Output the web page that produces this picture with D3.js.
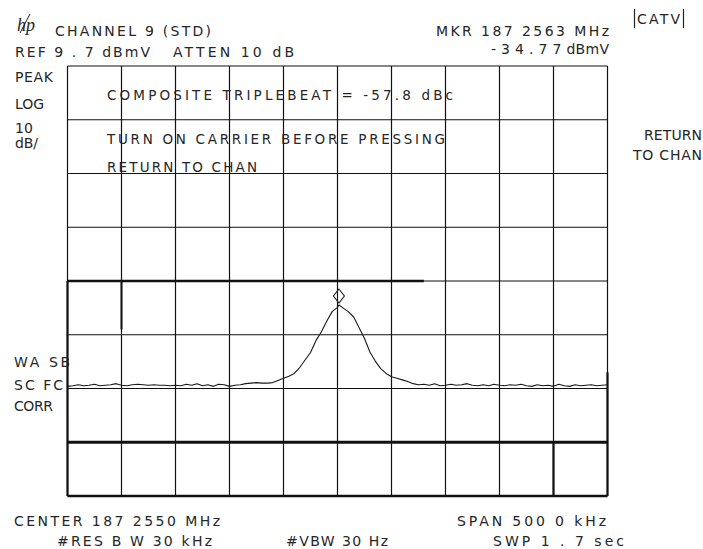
<!DOCTYPE html>
<html>
<head>
<meta charset="utf-8">
<script src="https://cdn.jsdelivr.net/npm/d3@7/dist/d3.min.js"></script>
<style>
  html, body { margin: 0; padding: 0; background: #fff; }
  svg { display: block; }
  text { font-family: "DejaVu Sans", sans-serif; fill: #262626; }
</style>
</head>
<body>
<svg id="chart" width="703" height="549"></svg>
<script>
// Sweep: frequency offset from centre (kHz) and measured level (dBmV)
const freqOffsetKHz = [
  -250, -245, -240, -235, -230, -225, -220, -215, -210, -205,
  -200, -195, -190, -185, -180, -175, -170, -165, -160, -155,
  -150, -145, -140, -135, -130, -125, -120, -115, -110, -105,
  -100, -95, -90, -85, -80, -75, -70, -65, -60, -55,
  -50, -45, -40, -35, -30, -25, -20, -15, -10, -5,
  0, 1.3, 5, 10, 15, 20, 25, 30, 35, 40,
  45, 50, 55, 60, 65, 70, 75, 80, 85, 90,
  95, 100, 105, 110, 115, 120, 125, 130, 135, 140,
  145, 150, 155, 160, 165, 170, 175, 180, 185, 190,
  195, 200, 205, 210, 215, 220, 225, 230, 235, 240,
  245, 250
];
const levelDBmV = [
  -49.9, -49.8, -49.6, -49.8, -49.7, -49.5, -49.8, -49.7, -49.6, -49.4,
  -49.7, -49.8, -49.6, -49.5, -49.6, -49.7, -49.6, -49.7, -49.7, -49.8,
  -49.7, -49.8, -49.5, -49.7, -49.4, -49.8, -49.6, -49.9, -49.5, -49.6,
  -49.9, -49.7, -49.6, -49.4, -49.3, -49.2, -49.3, -49.3, -49.2, -48.8,
  -48.4, -48.0, -47.5, -46.4, -45.0, -43.6, -41.4, -39.8, -37.8, -36.0,
  -35.2, -34.77, -35.3, -36.0, -37.0, -39.0, -41.0, -43.5, -45.2, -46.6,
  -47.5, -48.1, -48.4, -48.7, -49.0, -49.4, -49.6, -49.5, -49.7, -49.4,
  -49.8, -49.7, -49.5, -49.7, -49.6, -49.4, -49.7, -49.8, -49.6, -49.8,
  -49.5, -49.7, -49.8, -49.6, -49.7, -49.5, -49.8, -49.9, -49.6, -49.8,
  -49.7, -49.9, -49.5, -49.8, -49.9, -49.6, -49.8, -49.7, -49.6, -49.8,
  -49.7, -49.6
];

// Marker readout
const markerKHz = 1.3;
const markerDBmV = -34.77;

// Display settings: reference level, log scale, span
const refLevel = 9.7;
const dbPerDiv = 10;
const vDivs = 8;
const span = 500;
const hDivs = 10;

const freqTicks = d3.range(hDivs + 1).map(i => -span / 2 + i * span / hDivs);
const levelTicks = d3.range(vDivs + 1).map(i => refLevel - i * dbPerDiv);

// Annotation strings
const headerLabels = ["CHANNEL 9 (STD)", "REF 9 . 7 dBmV", "ATTEN 10 dB",
                      "MKR 187 2563 MHz", "- 3 4 . 7 7 dBmV"];
const sideLabels = ["PEAK", "LOG", "10", "dB/", "WA SB", "SC FC", "CORR"];
const softKeys = ["CATV", "RETURN", "TO CHAN"];
const messages = ["COMPOSITE TRIPLEBEAT = -57.8 dBc",
                  "TURN ON CARRIER BEFORE PRESSING", "RETURN TO CHAN"];
const footerLabels = ["CENTER 187 2550 MHz", "SPAN 500 0 kHz",
                      "#RES B W 30 kHz", "#VBW 30 Hz", "SWP 1 . 7  sec"];

const svg = d3.select("#chart");
const plot = { left: 67.5, right: 607.5, top: 66, bottom: 496 };

const x = d3.scaleLinear().domain([-span / 2, span / 2]).range([plot.left, plot.right]);
const y = d3.scaleLinear().domain([refLevel, refLevel - vDivs * dbPerDiv]).range([plot.top, plot.bottom]);

// Graticule
const grid = svg.append("g").attr("stroke", "#111").attr("fill", "none");
grid.selectAll("line.v").data(freqTicks).join("line")
  .attr("class", "v")
  .attr("x1", d => x(d)).attr("x2", d => x(d))
  .attr("y1", plot.top).attr("y2", plot.bottom)
  .attr("stroke-width", 1.2);
grid.selectAll("line.h").data(levelTicks).join("line")
  .attr("class", "h")
  .attr("x1", plot.left).attr("x2", plot.right)
  .attr("y1", d => y(d)).attr("y2", d => y(d))
  .attr("stroke-width", 1.2);

// Heavier plotter strokes
const heavy = [
  { x1: x(-250), x2: x(80), y1: y(refLevel - 40), y2: y(refLevel - 40), w: 2.6 },
  { x1: x(-250), x2: x(250), y1: y(refLevel - 70), y2: y(refLevel - 70), w: 2.8 },
  { x1: x(-250), x2: x(250), y1: y(refLevel - 80), y2: y(refLevel - 80), w: 2.4 },
  { x1: x(-250), x2: x(-250), y1: y(refLevel - 40), y2: y(refLevel - 80), w: 2.2 },
  { x1: x(-200), x2: x(-200), y1: y(refLevel - 40), y2: y(refLevel - 49), w: 2.0 },
  { x1: x(200), x2: x(200), y1: y(refLevel - 70), y2: y(refLevel - 80), w: 2.2 },
  { x1: x(250), x2: x(250), y1: y(refLevel - 57), y2: y(refLevel - 80), w: 2.2 }
];
grid.selectAll("line.heavy").data(heavy).join("line")
  .attr("class", "heavy")
  .attr("x1", d => d.x1).attr("x2", d => d.x2)
  .attr("y1", d => d.y1).attr("y2", d => d.y2)
  .attr("stroke-width", d => d.w);

// Trace
const trace = freqOffsetKHz.map((f, i) => [f, levelDBmV[i]]);
svg.append("path")
  .datum(trace)
  .attr("fill", "none")
  .attr("stroke", "#1a1a1a")
  .attr("stroke-width", 1.1)
  .attr("stroke-linejoin", "round")
  .attr("d", d3.line().x(d => x(d[0])).y(d => y(d[1])));

// Marker diamond sitting on the peak
const mx = x(markerKHz), my = y(markerDBmV) - 2;
svg.append("path")
  .attr("fill", "none").attr("stroke", "#1a1a1a").attr("stroke-width", 1.1)
  .attr("d", `M${mx},${my} L${mx - 5.5},${my - 7} L${mx},${my - 14} L${mx + 5.5},${my - 7} Z`);

// Text helper: fit a string to a measured width
function label(str, x0, yb, w, opts = {}) {
  const t = svg.append("text")
    .attr("x", x0).attr("y", yb)
    .attr("font-size", opts.size || 14)
    .attr("text-anchor", opts.anchor || "start")
    .attr("textLength", w)
    .attr("lengthAdjust", "spacing")
    .text(str);
  if (opts.family) t.style("font-family", opts.family);
  return t;
}

// hp logo
svg.append("text").attr("x", 17).attr("y", 31)
  .attr("font-size", 18).attr("font-style", "italic")
  .style("font-family", "'Liberation Serif', serif").attr("fill", "#222")
  .text("hp");
svg.append("line").attr("x1", 20).attr("y1", 33).attr("x2", 30).attr("y2", 14)
  .attr("stroke", "#222").attr("stroke-width", 1);

label(headerLabels[0], 55, 36, 156);
label(headerLabels[1], 15, 57, 135);
label(headerLabels[2], 173, 57, 121);
label(headerLabels[3], 436, 36, 173);
label(headerLabels[4], 491, 54, 118);

label(sideLabels[0], 15, 82, 38);
label(sideLabels[1], 15, 109, 29);
label(sideLabels[2], 15, 133, 18);
label(sideLabels[3], 15, 148, 23);
label(sideLabels[4], 14, 367, 56);
label(sideLabels[5], 14, 390, 49);
label(sideLabels[6], 14, 411, 39);

// Soft keys
label(softKeys[0], 637, 24, 43);
svg.append("g").attr("stroke", "#222").attr("stroke-width", 1.2)
  .selectAll("line").data([634.5, 683.5]).join("line")
  .attr("x1", d => d).attr("x2", d => d).attr("y1", 9).attr("y2", 28);
label(softKeys[1], 702, 140, 58, { anchor: "end" });
label(softKeys[2], 702, 160, 69, { anchor: "end" });

// On-screen messages
label(messages[0], 107, 100, 346, { size: 13.5 });
label(messages[1], 107, 144, 338, { size: 13.5 });
label(messages[2], 107, 172, 150, { size: 13.5 });

// Footer
label(footerLabels[0], 14, 526, 206);
label(footerLabels[1], 457, 526, 149);
label(footerLabels[2], 57, 546, 155);
label(footerLabels[3], 286, 546, 102);
label(footerLabels[4], 493, 546, 131);
</script>
</body>
</html>
